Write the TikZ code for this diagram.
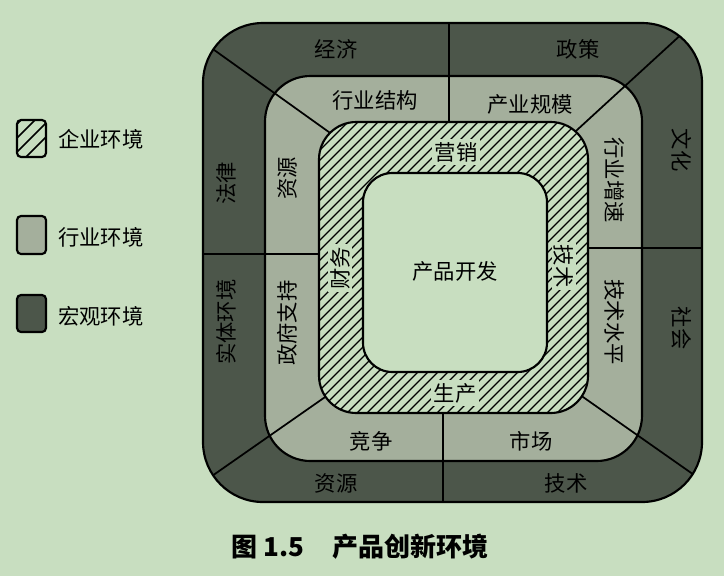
\documentclass[tikz,border=0pt]{standalone}
\usepackage{fontspec}
\newfontfamily\cjk{Noto Sans CJK SC}
\usetikzlibrary{calc}
\definecolor{bgc}{RGB}{200,222,192}
\definecolor{macro}{RGB}{76,86,74}
\definecolor{indus}{RGB}{164,175,156}
\tikzset{
  lbl/.style={font=\cjk\fontsize{16}{16}\selectfont, inner sep=0pt},
  edge/.style={line width=1.6pt},
  div/.style={line width=1.3pt},
  hat/.style={line width=0.9pt},
}
\begin{document}
\begin{tikzpicture}[x=0.75pt,y=-0.75pt]
\fill[bgc] (0,0) rectangle (724,576);
\useasboundingbox (0,0) rectangle (724,576);
% outer macro ring
\begin{scope}
\clip[rounded corners=45pt] (203,23) rectangle (702,502);
\fill[macro] (203,23) rectangle (702,502);
\fill[indus,rounded corners=34pt] (265,76) rectangle (642,461);
% dividers
\draw[div] (449,0) -- (449,200);
\draw[div] (443,300) -- (443,520);
\draw[div] (190,254) -- (400,254);
\draw[div] (500,248) -- (720,248);
\draw[div] ($(217,52)!-0.3!(333,135)$) -- ($(217,52)!1.3!(333,135)$);
\draw[div] ($(673,42)!-0.3!(577,130)$) -- ($(673,42)!1.3!(577,130)$);
\draw[div] ($(222,469)!-0.3!(328,395)$) -- ($(222,469)!1.3!(328,395)$);
\draw[div] ($(687,470)!-0.3!(583,397)$) -- ($(687,470)!1.3!(583,397)$);
\draw[edge,rounded corners=34pt] (265,76) rectangle (642,461);
\end{scope}
\draw[edge,rounded corners=45pt] (203,23) rectangle (702,502);
% hatched enterprise ring
\fill[bgc,rounded corners=28pt] (319,122) rectangle (588,413);
\begin{scope}
\clip[rounded corners=28pt] (319,122) rectangle (588,413);
\foreach \k in {430,440,...,1010} {
  \draw[hat] (\k-450,450) -- (\k-100,100);
}
\end{scope}
\draw[edge,rounded corners=28pt] (319,122) rectangle (588,413);
\fill[bgc,rounded corners=22pt] (363,173) rectangle (547,372);
\draw[edge,rounded corners=22pt] (363,173) rectangle (547,372);
% labels outer
\node[lbl] (jj) at (336,49) {经济};
\node[lbl] (zc) at (578,49) {政策};
\node[lbl,rotate=-90] (wh) at (682,150) {文化};
\node[lbl,rotate=-90] (sh) at (682,328) {社会};
\node[lbl,rotate=90] (fl) at (226,183) {法律};
\node[lbl,rotate=90] (st) at (226,322) {实体环境};
\node[lbl] (zy) at (336,483) {资源};
\node[lbl] (js) at (566,483) {技术};
% labels middle
\node[lbl] (hyjg) at (375,100) {行业结构};
\node[lbl] (cygm) at (530,104) {产业规模};
\node[lbl,rotate=-90] (hyzs) at (615,180) {行业增速};
\node[lbl,rotate=-90] (jssp) at (615,322) {技术水平};
\node[lbl] (jz) at (371,441) {竞争};
\node[lbl] (sc) at (531,441) {市场};
\node[lbl,rotate=90] (zy2) at (287,178) {资源};
\node[lbl,rotate=90] (zfzc) at (287,323) {政府支持};
% labels inner
\node[lbl,fill=bgc,inner sep=2pt] (yx) at (456,152) {营销};
\node[lbl,fill=bgc,inner sep=2pt,rotate=-90] (js2) at (564,266) {技术};
\node[lbl,fill=bgc,inner sep=2pt] (scn) at (455,393) {生产};
\node[lbl,fill=bgc,inner sep=2pt,rotate=90] (cw) at (340,268) {财务};
\node[lbl] (cpkf) at (455,271) {产品开发};
% legend
\begin{scope}
\clip[rounded corners=3pt] (17,120) rectangle (46,157);
\foreach \k in {141,155,169,183} {\draw[line width=1.1pt] (\k-160,160) -- (\k-110,110);}
\end{scope}
\draw[edge,rounded corners=3pt] (17,120) rectangle (46,157);
\node[lbl,anchor=west] (lg1) at (58,139) {企业环境};
\draw[edge,fill=indus,rounded corners=3pt] (17,216) rectangle (46,254);
\node[lbl,anchor=west] (lg2) at (58,237) {行业环境};
\draw[edge,fill=macro,rounded corners=3pt] (17,295) rectangle (46,332);
\node[lbl,anchor=west] (lg3) at (58,316) {宏观环境};
% caption
\node[font=\cjk\bfseries\fontsize{19.5}{20}\selectfont,anchor=west,inner sep=0pt] (cap) at (231,547) {图 1.5\hspace{1.1em}产品创新环境};
\end{tikzpicture}
\end{document}
